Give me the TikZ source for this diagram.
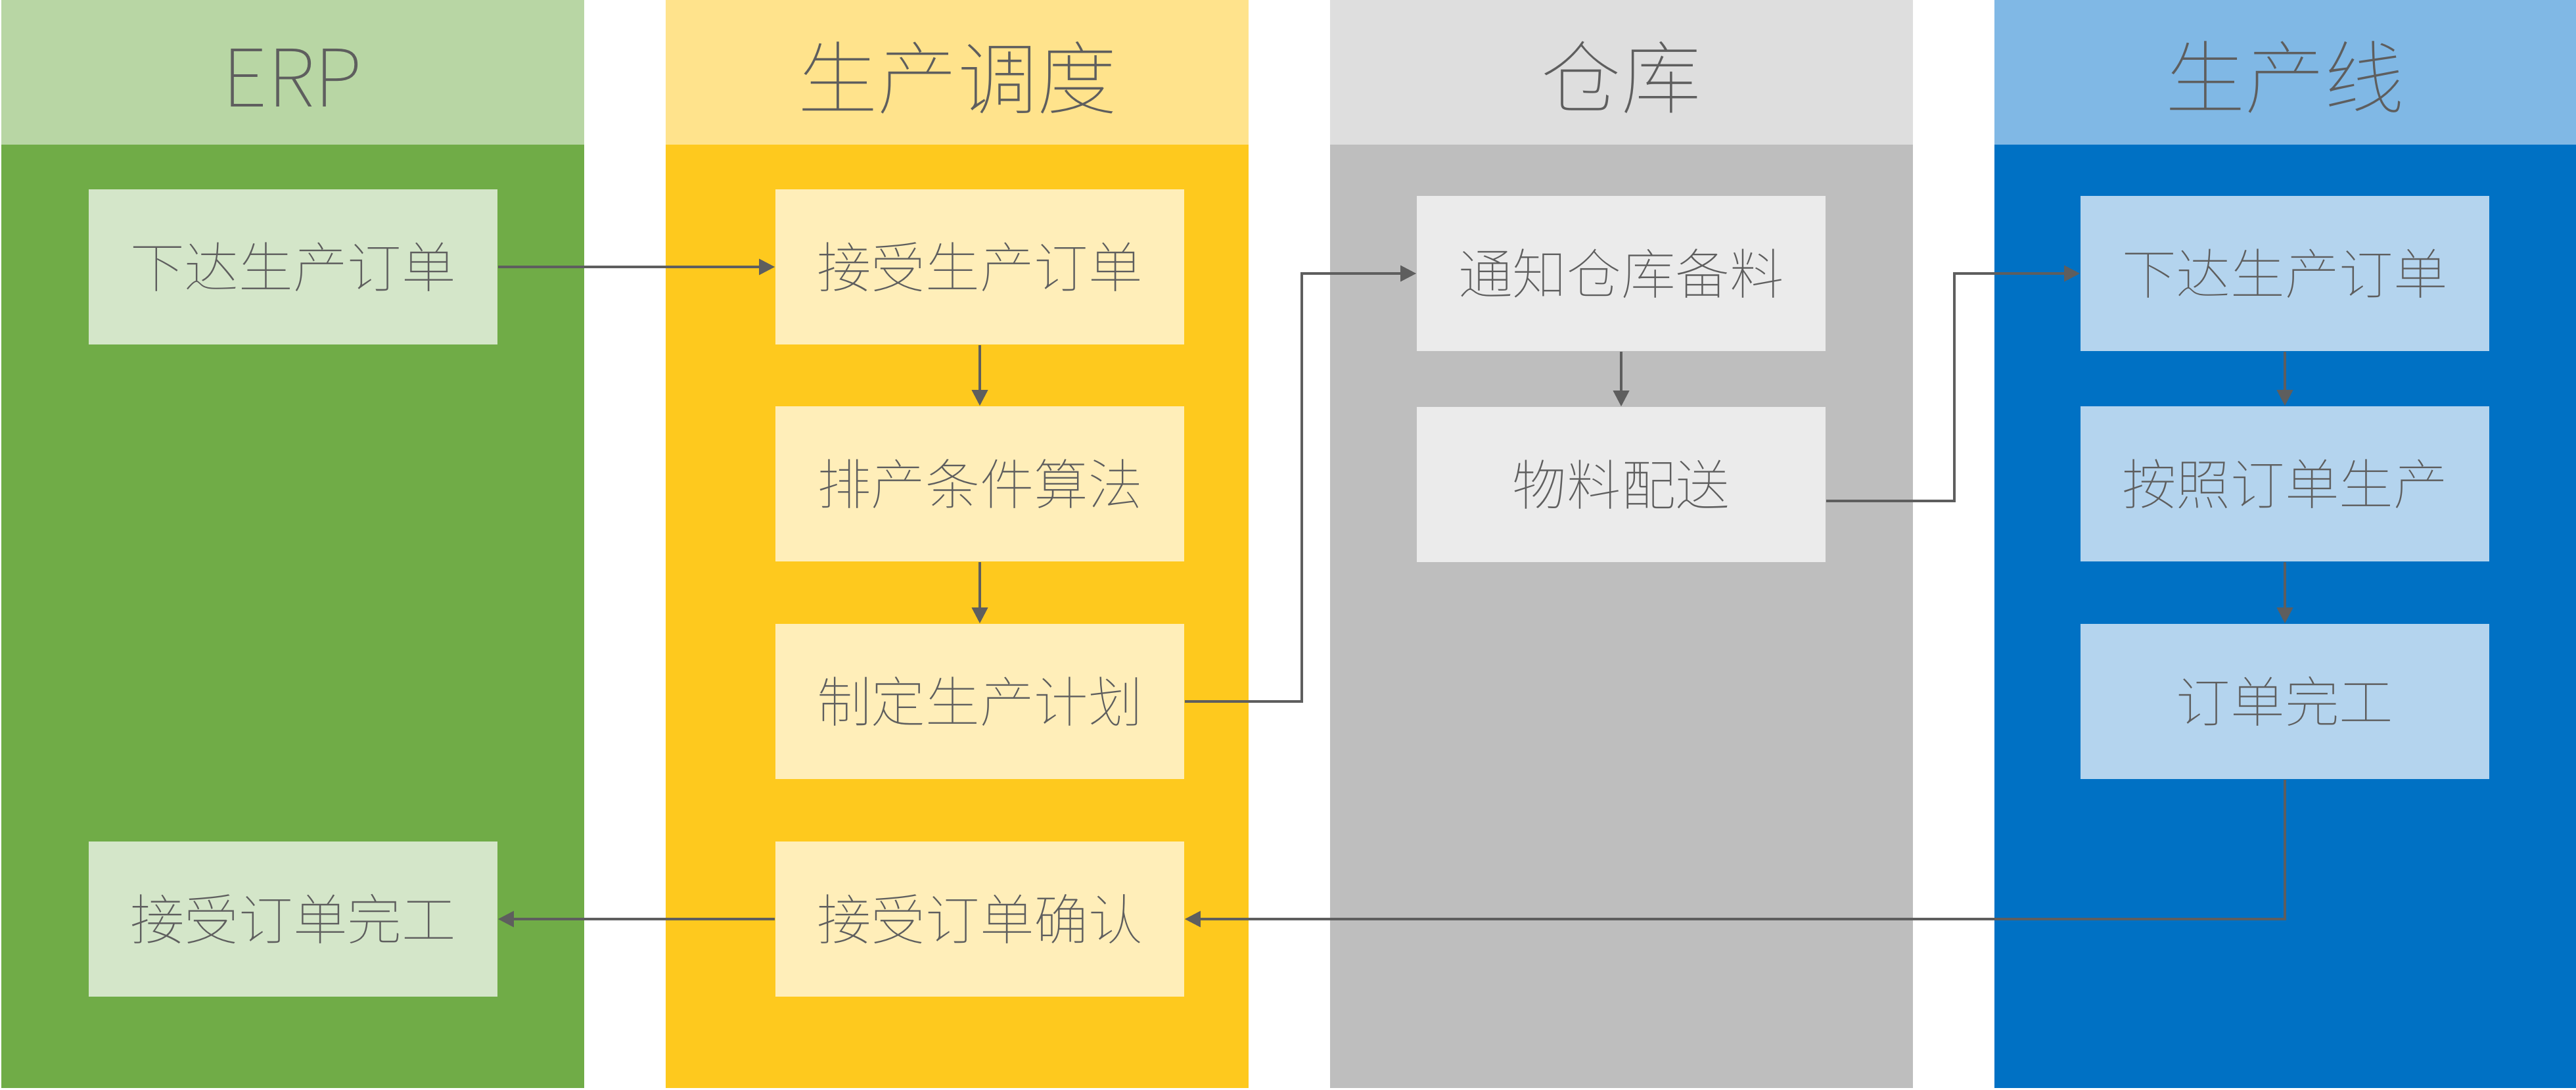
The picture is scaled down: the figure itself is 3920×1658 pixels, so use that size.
\documentclass[tikz,border=0pt]{standalone}
\usepackage{fontspec}
\setmainfont{Noto Sans CJK SC Thin}
\usetikzlibrary{arrows.meta}
\definecolor{erpHead}{HTML}{B8D6A4}
\definecolor{erpBody}{HTML}{70AC47}
\definecolor{erpBox}{HTML}{D4E6C9}
\definecolor{schHead}{HTML}{FFE38C}
\definecolor{schBody}{HTML}{FEC91E}
\definecolor{schBox}{HTML}{FFEEB9}
\definecolor{whHead}{HTML}{DEDEDE}
\definecolor{whBody}{HTML}{BEBEBE}
\definecolor{whBox}{HTML}{EBEBEB}
\definecolor{plHead}{HTML}{80B8E5}
\definecolor{plBody}{HTML}{0071C4}
\definecolor{plBox}{HTML}{B4D4EE}
\definecolor{txtGray}{HTML}{5E5E5E}
\definecolor{lineGray}{HTML}{5E5E5E}
\begin{document}
\begin{tikzpicture}[x=0.01cm,y=-0.01cm,
  stepbox/.style={minimum width=6.22cm,minimum height=2.36cm,inner sep=0pt,
    text=txtGray,font=\fontsize{23.5pt}{23.5pt}\selectfont},
  headtext/.style={text=txtGray,inner sep=0pt,font=\fontsize{34.5pt}{34.5pt}\selectfont},
  flow/.style={draw=lineGray,line width=0.035cm,-{Triangle[length=0.24cm,width=0.24cm]}}]
\useasboundingbox (0,0) rectangle (3920,1658);
% lanes
\fill[erpHead] (2,0) rectangle (889,220);
\fill[erpBody] (2,220) rectangle (889,1655);
\fill[schHead] (1013,0) rectangle (1900,220);
\fill[schBody] (1013,220) rectangle (1900,1655);
\fill[whHead] (2024,0) rectangle (2911,220);
\fill[whBody] (2024,220) rectangle (2911,1655);
\fill[plHead] (3035,0) rectangle (3920,220);
\fill[plBody] (3035,220) rectangle (3920,1655);
% headers
\node[headtext] (hErp) at (445,118) {ERP};
\node[headtext] (hSch) at (1457,118) {生产调度};
\node[headtext] (hWh) at (2467,118) {仓库};
\node[headtext] (hPl) at (3477,118) {生产线};
% boxes
\node[stepbox,fill=erpBox] (e1) at (446,406) {下达生产订单};
\node[stepbox,fill=erpBox] (e2) at (446,1398) {接受订单完工};
\node[stepbox,fill=schBox] (s1) at (1491,406) {接受生产订单};
\node[stepbox,fill=schBox] (s2) at (1491,736) {排产条件算法};
\node[stepbox,fill=schBox] (s3) at (1491,1067) {制定生产计划};
\node[stepbox,fill=schBox] (s4) at (1491,1398) {接受订单确认};
\node[stepbox,fill=whBox] (w1) at (2467,416) {通知仓库备料};
\node[stepbox,fill=whBox] (w2) at (2467,737) {物料配送};
\node[stepbox,fill=plBox] (p1) at (3477,416) {下达生产订单};
\node[stepbox,fill=plBox] (p2) at (3477,736) {按照订单生产};
\node[stepbox,fill=plBox] (p3) at (3477,1067) {订单完工};
% connectors
\draw[flow] (e1.east) -- (s1.west);
\draw[flow] (s1.south) -- (s2.north);
\draw[flow] (s2.south) -- (s3.north);
\draw[flow] (s3.east) -- ++(178,0) |- (w1.west);
\draw[flow] (w1.south) -- (w2.north);
\draw[flow] ([yshift=-0.25cm]w2.east) -- ++(195,0) |- (p1.west);
\draw[flow] (p1.south) -- (p2.north);
\draw[flow] (p2.south) -- (p3.north);
\draw[flow] (p3.south) |- (s4.east);
\draw[flow] (s4.west) -- (e2.east);
\end{tikzpicture}
\end{document}
